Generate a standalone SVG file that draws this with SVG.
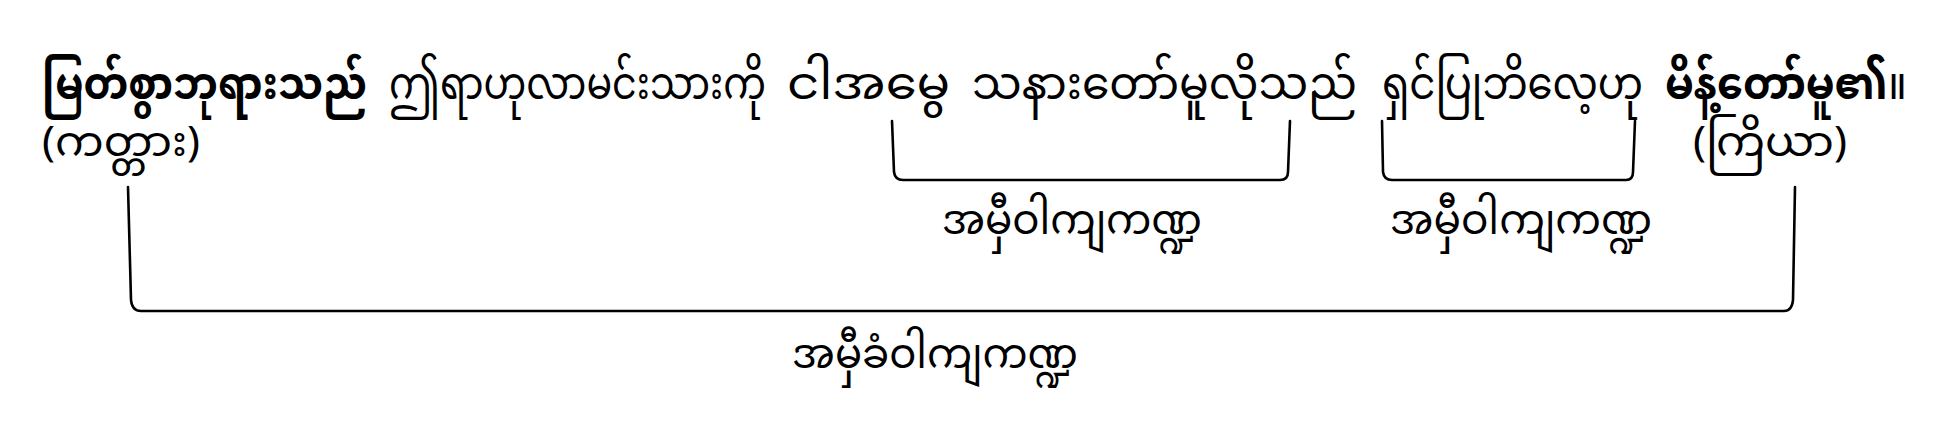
<svg xmlns="http://www.w3.org/2000/svg" width="1947" height="433" viewBox="0 0 1947 433">
<style>
text{font-family:"Noto Sans Myanmar","Padauk","Myanmar Text","Noto Sans",sans-serif;fill:#000;font-size:42px}
.top{font-size:45px}
.b{font-weight:bold}
.br{fill:none;stroke:#000;stroke-width:2.6;stroke-linecap:round;stroke-linejoin:round}
</style>
<rect width="1947" height="433" fill="#fff"/>
<g id="sentence">
<text class="top b" x="42" y="99" textLength="325" lengthAdjust="spacingAndGlyphs">မြတ်စွာဘုရားသည်</text>
<text class="top" x="389" y="99" textLength="377" lengthAdjust="spacingAndGlyphs">ဤရာဟုလာမင်းသားကို</text>
<text class="top" x="787" y="99" textLength="163" lengthAdjust="spacingAndGlyphs">ငါအမွေ</text>
<text class="top" x="972" y="99" textLength="385" lengthAdjust="spacingAndGlyphs">သနားတော်မူလိုသည်</text>
<text class="top" x="1382" y="99" textLength="261" lengthAdjust="spacingAndGlyphs">ရှင်ပြုဘိလေ့ဟု</text>
<text class="top" x="1665" y="99" textLength="242" lengthAdjust="spacingAndGlyphs"><tspan class="b">မိန့်တော်မူ၏</tspan>။</text>
</g>
<g id="subject"><text x="42" y="156" textLength="158" lengthAdjust="spacingAndGlyphs">(ကတ္တား)</text></g>
<g id="verb"><text x="1693" y="156" textLength="154" lengthAdjust="spacingAndGlyphs">(ကြိယာ)</text></g>
<g id="clause1"><text x="942" y="234" textLength="260" lengthAdjust="spacingAndGlyphs">အမှီဝါကျကဏ္ဍ</text></g>
<g id="clause2"><text x="1390" y="234" textLength="262" lengthAdjust="spacingAndGlyphs">အမှီဝါကျကဏ္ဍ</text></g>
<g id="mainclause"><text x="792" y="368" textLength="286" lengthAdjust="spacingAndGlyphs">အမှီခံဝါကျကဏ္ဍ</text></g>
<g id="connectors">
<path class="br" d="M892,121 L894,172 Q895,180 903,180 L1280,180 Q1288,180 1288,172 L1290,121"/>
<path class="br" d="M1382,121 L1383,172 Q1384,180 1392,180 L1626,180 Q1633,180 1633,172 L1635,121"/>
<path class="br" d="M128,187 L131,300 Q132,311 141,311 L1784,311 Q1792,311 1793,300 L1795,187"/>
</g>
</svg>
